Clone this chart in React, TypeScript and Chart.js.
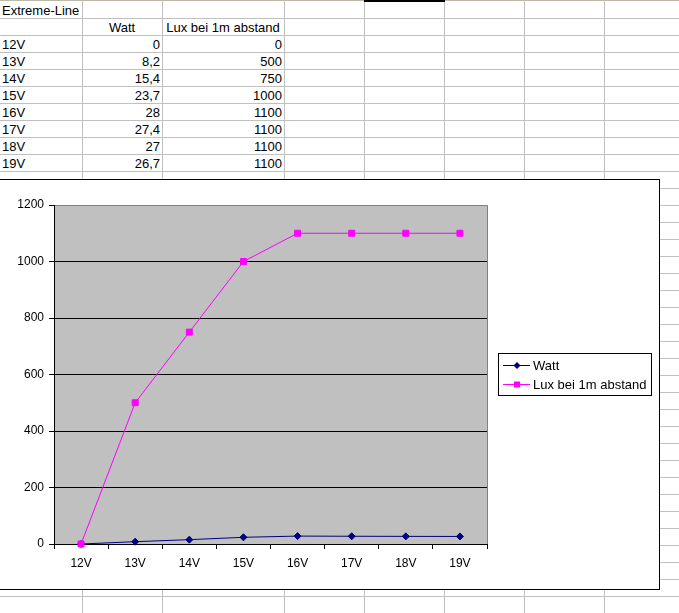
import React, { useEffect, useRef } from 'react';
import { Chart, registerables } from 'chart.js';

Chart.register(...registerables);

const sheetTitle = 'Extreme-Line';
const categories = ['12V', '13V', '14V', '15V', '16V', '17V', '18V', '19V'];
const seriesNames = ['Watt', 'Lux bei 1m abstand'];
const wattValues = [0, 8.2, 15.4, 23.7, 28, 27.4, 27, 26.7];
const luxValues = [0, 500, 750, 1000, 1100, 1100, 1100, 1100];
const yTicks = [0, 200, 400, 600, 800, 1000, 1200];

const FONT = 'Liberation Sans, Arial, sans-serif';
const GRID = '#C0C0C0';
const colLines = [82, 162, 284, 364, 444, 524, 604];
const fmt = (v: number) => String(v).replace('.', ',');

const excelPlugin = {
  id: 'excelPlot',
  beforeDraw(chart: any) {
    const { ctx, chartArea: a } = chart;
    ctx.save();
    ctx.fillStyle = '#C0C0C0';
    ctx.fillRect(a.left, a.top, a.right - a.left, a.bottom - a.top);
    ctx.restore();
  },
  afterDraw(chart: any) {
    const { ctx, chartArea: a } = chart;
    ctx.save();
    // plot-area border (top/right)
    ctx.strokeStyle = '#808080';
    ctx.lineWidth = 1;
    ctx.beginPath();
    ctx.moveTo(a.left + 1, a.top + 0.5);
    ctx.lineTo(a.right + 0.5, a.top + 0.5);
    ctx.lineTo(a.right + 0.5, a.bottom);
    ctx.stroke();

    // legend
    const bx = 499, by = 173, bw = 153, bh = 42;
    ctx.fillStyle = '#FFFFFF';
    ctx.fillRect(bx, by, bw, bh);
    ctx.strokeStyle = '#000000';
    ctx.strokeRect(bx + 0.5, by + 0.5, bw, bh);
    const rows = [185, 204];
    chart.data.datasets.forEach((ds: any, i: number) => {
      const y = rows[i];
      ctx.strokeStyle = ds.borderColor;
      ctx.fillStyle = ds.borderColor;
      ctx.lineWidth = 1;
      ctx.beginPath();
      ctx.moveTo(504, y + 0.5);
      ctx.lineTo(531, y + 0.5);
      ctx.stroke();
      const cx = 518, cy = y + 0.5;
      ctx.beginPath();
      if (ds.pointStyle === 'rectRot') {
        ctx.moveTo(cx, cy - 3.5);
        ctx.lineTo(cx + 3.5, cy);
        ctx.lineTo(cx, cy + 3.5);
        ctx.lineTo(cx - 3.5, cy);
        ctx.closePath();
      } else {
        ctx.rect(cx - 3, cy - 3, 6, 6);
      }
      ctx.fill();
      ctx.fillStyle = '#000000';
      ctx.font = `13px ${FONT}`;
      ctx.textBaseline = 'middle';
      ctx.textAlign = 'left';
      ctx.fillText(ds.label, 534, y + 1);
    });
    ctx.restore();
  },
};

export default function App() {
  const canvasRef = useRef<HTMLCanvasElement>(null);

  useEffect(() => {
    const tickFont = { family: FONT, size: 12 };
    const chart = new Chart(canvasRef.current as HTMLCanvasElement, {
      type: 'line',
      data: {
        labels: categories,
        datasets: [
          {
            label: seriesNames[0],
            data: wattValues,
            borderColor: '#000080',
            backgroundColor: '#000080',
            borderWidth: 1,
            pointStyle: 'rectRot',
            pointRadius: 3.5,
            pointBorderWidth: 1,
            tension: 0,
            clip: false as any,
            order: 1,
          },
          {
            label: seriesNames[1],
            data: luxValues,
            borderColor: '#FF00FF',
            backgroundColor: '#FF00FF',
            borderWidth: 1,
            pointStyle: 'rect',
            pointRadius: 4.2,
            pointBorderWidth: 1,
            tension: 0,
            clip: false as any,
            order: 0,
          },
        ],
      },
      options: {
        responsive: false,
        animation: false,
        devicePixelRatio: 1,
        events: [],
        layout: { padding: { top: 25, right: 172, bottom: 0, left: 0 } },
        plugins: {
          legend: { display: false },
          tooltip: { enabled: false },
          title: { display: false },
        },
        scales: {
          x: {
            type: 'category',
            offset: true,
            grid: { offset: true, drawOnChartArea: false, drawTicks: true, tickLength: 5, color: '#000000', lineWidth: 1 },
            border: { color: '#000000', width: 1 },
            ticks: { color: '#000000', font: tickFont, padding: 7, maxRotation: 0, autoSkip: false },
            afterFit: (s: any) => { s.height = 45; },
          },
          y: {
            min: yTicks[0],
            max: yTicks[yTicks.length - 1],
            grid: { color: '#000000', lineWidth: 1, tickLength: 5, drawTicks: true },
            border: { color: '#000000', width: 1 },
            ticks: {
              stepSize: yTicks[1] - yTicks[0],
              color: '#000000',
              font: tickFont,
              padding: 5,
              callback: (v: any) => String(v),
            },
            afterFit: (s: any) => { s.width = 55; },
          },
        },
      },
      plugins: [excelPlugin],
    } as any);
    return () => chart.destroy();
  }, []);

  const rowLines: number[] = [];
  for (let k = 1; k <= 36; k++) rowLines.push(1 + 17 * k);

  const cellStyle = (row: number): React.CSSProperties => ({
    position: 'absolute',
    top: 2 + 17 * row,
    height: 16,
    lineHeight: '17px',
    whiteSpace: 'nowrap',
  });

  return (
    <div
      style={{
        position: 'fixed',
        left: 0,
        top: 0,
        width: 679,
        height: 613,
        overflow: 'hidden',
        background: '#FFFFFF',
        fontFamily: FONT,
        fontSize: 13,
        color: '#000000',
      }}
    >
      <div style={{ position: 'absolute', left: 0, top: 0, width: 679, height: 1, background: '#BDB8A8' }} />
      {rowLines.map((y) => (
        <div key={'r' + y} style={{ position: 'absolute', left: 0, top: y, width: 679, height: 1, background: GRID }} />
      ))}
      {colLines.map((x) => (
        <div key={'c' + x} style={{ position: 'absolute', left: x, top: 0, width: 1, height: 613, background: GRID }} />
      ))}
      <div style={{ position: 'absolute', left: 364, top: 0, width: 81, height: 2, background: '#000000' }} />

      <div style={{ ...cellStyle(0), left: 2 }}>{sheetTitle}</div>
      <div style={{ ...cellStyle(1), left: 82, width: 80, textAlign: 'center' }}>{seriesNames[0]}</div>
      <div style={{ ...cellStyle(1), left: 162, width: 122, textAlign: 'center' }}>{seriesNames[1]}</div>
      {categories.map((c, i) => (
        <React.Fragment key={c}>
          <div style={{ ...cellStyle(i + 2), left: 2 }}>{c}</div>
          <div style={{ ...cellStyle(i + 2), left: 83, width: 77, textAlign: 'right' }}>{fmt(wattValues[i])}</div>
          <div style={{ ...cellStyle(i + 2), left: 163, width: 119, textAlign: 'right' }}>{fmt(luxValues[i])}</div>
        </React.Fragment>
      ))}

      <div
        style={{
          position: 'absolute',
          left: -2,
          top: 179,
          width: 662,
          height: 411,
          boxSizing: 'border-box',
          border: '1px solid #000000',
          background: '#FFFFFF',
        }}
      >
        <canvas
          ref={canvasRef}
          width={660}
          height={409}
          style={{ position: 'absolute', left: 0, top: 0, width: 660, height: 409, display: 'block' }}
        />
      </div>
    </div>
  );
}
